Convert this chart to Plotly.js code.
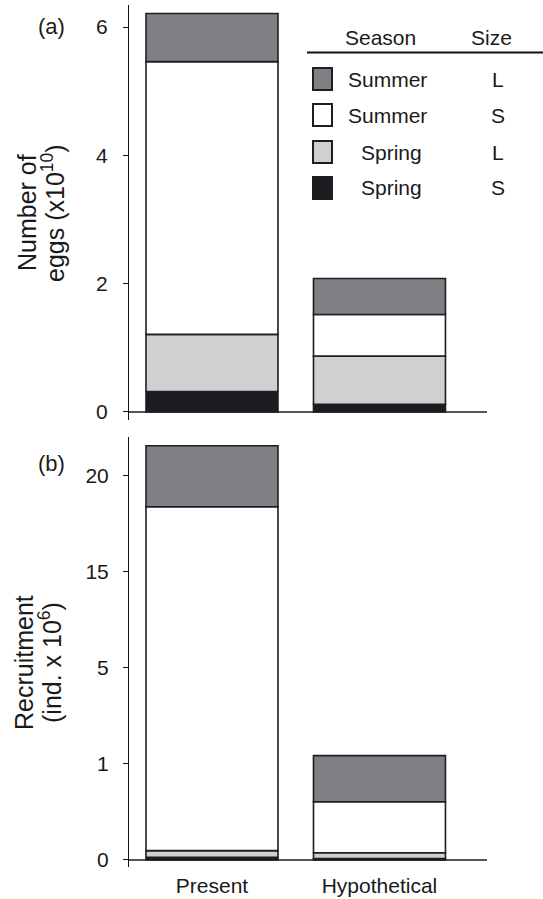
<!DOCTYPE html>
<html>
<head>
<meta charset="utf-8">
<script src="https://cdn.plot.ly/plotly-3.0.1.min.js"></script>
<style>html,body{margin:0;padding:0;background:#fff;}#chart{width:543px;height:899px;}</style>
</head>
<body>
<div id="chart"></div>
<script>
// ---- data ----
const categories = ['Present', 'Hypothetical'];
const seasons = ['Spring', 'Spring', 'Summer', 'Summer'];
const sizes = ['S', 'L', 'S', 'L'];
// Number of eggs (x10^10)
const eggsSpringS = [0.32, 0.12];
const eggsSpringL = [0.89, 0.75];
const eggsSummerS = [4.25, 0.65];
const eggsSummerL = [0.75, 0.56];
// Recruitment (ind. x 10^6)
const recSpringS = [0.028, 0.015];
const recSpringL = [0.069, 0.061];
const recSummerS = [18.29, 0.53];
const recSummerL = [3.17, 0.74];
const eggTicks = [0, 2, 4, 6];
const recTicks = [0, 1, 5, 15, 20];

// ---- styles ----
const fills = ['#1c1c20', '#cfd0d2', '#ffffff', '#807f84'];
const edge = '#1e1e22';
const F = 'Liberation Sans, Arial, Helvetica, sans-serif';
const TXT = '#1a1a1a';

// broken axis of panel (b): each interval between ticks gets equal length
function brk(v) {
  for (let i = 0; i < recTicks.length - 1; i++) {
    if (v <= recTicks[i + 1]) return i + (v - recTicks[i]) / (recTicks[i + 1] - recTicks[i]);
  }
  const n = recTicks.length - 1;
  return (n - 1) + (v - recTicks[n - 1]) / (recTicks[n] - recTicks[n - 1]);
}

function stackTraces(seriesList, xa, ya, map) {
  const out = [];
  const cum = categories.map(() => 0);
  seriesList.forEach((s, k) => {
    const base = cum.map(c => map(c));
    const top = cum.map((c, i) => map(c + s[i]));
    out.push({
      type: 'bar', x: categories, base: base, y: top.map((t, i) => t - base[i]),
      xaxis: xa, yaxis: ya, width: 0.788,
      marker: {color: fills[k], line: {color: edge, width: 1.6}},
      showlegend: false, hoverinfo: 'skip'
    });
    s.forEach((v, i) => cum[i] += v);
  });
  return out;
}

const traces = [].concat(
  stackTraces([eggsSpringS, eggsSpringL, eggsSummerS, eggsSummerL], 'x2', 'y2', v => v),
  stackTraces([recSpringS, recSpringL, recSummerS, recSummerL], 'x', 'y', brk)
);

// pixel helpers for layout decorations
const L = 129, R = 487, T = 5, B = 867;
const px = p => (p - L) / (R - L);
const py = p => (B - p) / (B - T);

const annotations = [];
const shapes = [];
function txt(t, x, y, size, opts) {
  annotations.push(Object.assign({text: t, x: px(x), y: py(y), xref: 'paper', yref: 'paper',
    showarrow: false, xanchor: 'center', yanchor: 'middle', font: {family: F, size: size, color: TXT}}, opts || {}));
}
// panel labels
txt('(a)', 51, 26, 22);
txt('(b)', 51, 463, 22);
// y titles
txt('Number of', 27, 213, 25, {textangle: -90});
txt('eggs (x10<sup>10</sup>)', 53, 213, 25, {textangle: -90});
txt('Recruitment', 24, 663, 25, {textangle: -90});
txt('(ind. x 10<sup>6</sup>)', 50, 663, 25, {textangle: -90});
// legend
txt('Season', 380, 37, 21);
txt('Size', 491, 37, 21);
shapes.push({type: 'line', xref: 'paper', yref: 'paper', x0: px(307), x1: px(543), y0: py(52.5), y1: py(52.5),
  line: {color: '#111', width: 2}});
const legRowsY = [79, 115, 152, 188];
const legFill = [fills[3], fills[2], fills[1], fills[0]];
const legSeason = [seasons[3], seasons[2], seasons[1], seasons[0]];
const legSize = [sizes[3], sizes[2], sizes[1], sizes[0]];
legRowsY.forEach((y, k) => {
  shapes.push({type: 'rect', xref: 'paper', yref: 'paper', x0: px(313), x1: px(332), y0: py(y - 11), y1: py(y + 11),
    fillcolor: legFill[k], line: {color: edge, width: 2}});
  txt(legSeason[k], legSeason[k] === 'Summer' ? 387 : 391, y, 21);
  txt(legSize[k], 498, y, 21);
});

const yCommon = {showline: true, linecolor: '#111', linewidth: 1, ticks: 'outside', ticklen: 5, tickcolor: '#111',
  showgrid: false, zeroline: true, zerolinecolor: '#555', zerolinewidth: 1.5,
  tickfont: {family: F, size: 21, color: TXT}, fixedrange: true};
const xCommon = {range: [-0.4955, 1.642], showline: false, ticks: '', showgrid: false, zeroline: false,
  tickfont: {family: F, size: 21, color: TXT}, fixedrange: true};

const layout = {
  width: 543, height: 899, margin: {l: L, r: 543 - R, t: T, b: 899 - B},
  paper_bgcolor: '#fff', plot_bgcolor: '#fff', barmode: 'overlay', bargap: 0,
  xaxis: Object.assign({}, xCommon, {anchor: 'y', ticklabelstandoff: 4}),
  yaxis: Object.assign({}, yCommon, {domain: [0, py(437)], range: [-0.073, 4.403], ticklabelstandoff: 10,
    tickmode: 'array', tickvals: recTicks.map(brk), ticktext: recTicks.map(String)}),
  xaxis2: Object.assign({}, xCommon, {anchor: 'y2', showticklabels: false}),
  yaxis2: Object.assign({}, yCommon, {domain: [py(420), 1], range: [-0.125, 6.343], ticklabelstandoff: 11,
    tickmode: 'array', tickvals: eggTicks, ticktext: eggTicks.map(String)}),
  annotations: annotations, shapes: shapes
};

Plotly.newPlot('chart', traces, layout, {staticPlot: true, displayModeBar: false});
</script>
</body>
</html>
